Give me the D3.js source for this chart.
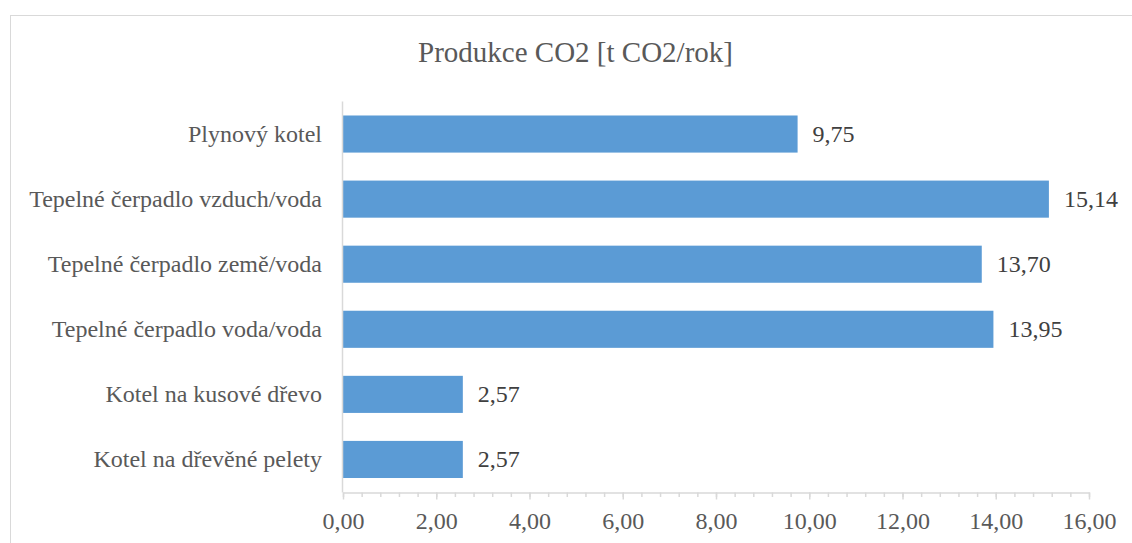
<!DOCTYPE html>
<html><head><meta charset="utf-8">
<script src="https://cdn.jsdelivr.net/npm/d3@7"></script>
<style>body{margin:0;background:#fff}svg{display:block}
svg text{font-family:"Times New Roman","Liberation Serif",Times,serif}</style>
</head><body>
<script>
const title = "Produkce CO2 [t CO2/rok]";
const categories = ["Plynový kotel","Tepelné čerpadlo vzduch/voda","Tepelné čerpadlo země/voda","Tepelné čerpadlo voda/voda","Kotel na kusové dřevo","Kotel na dřevěné pelety"];
const values = [9.75, 15.14, 13.70, 13.95, 2.57, 2.57];
const xTicks = [0,2,4,6,8,10,12,14,16];
const xMax = 16;

const W = 1132, H = 543;
const svg = d3.select("body").append("svg").attr("width", W).attr("height", H);
const fmt = v => v.toFixed(2).replace(".", ",");

// chart border
svg.append("rect").attr("x",10.5).attr("y",15.5).attr("width",1140).attr("height",560)
  .attr("fill","#fff").attr("stroke","#d9d9d9").attr("stroke-width",1);

const x = d3.scaleLinear().domain([0, xMax]).range([343, 1089]);
const y = d3.scaleBand().domain(categories).range([101.5, 492]).paddingInner(0.43).paddingOuter(0.215);

svg.append("text").attr("x",575.5).attr("y",62).attr("text-anchor","middle")
  .attr("font-size",29).attr("fill","#595959").text(title);

// bars
svg.selectAll("rect.bar").data(values).join("rect").attr("class","bar")
  .attr("x", x(0)).attr("y",(d,i)=>y(categories[i]))
  .attr("width", d=>x(d)-x(0)).attr("height", y.bandwidth())
  .attr("fill","#5b9bd5");

// value labels
svg.selectAll("text.val").data(values).join("text").attr("class","val")
  .attr("x", d=>x(d)+15).attr("y",(d,i)=>y(categories[i])+y.bandwidth()/2)
  .attr("dy","0.33em").attr("font-size",24).attr("fill","#404040")
  .text(fmt);

// category labels
svg.selectAll("text.cat").data(categories).join("text").attr("class","cat")
  .attr("x", 322).attr("y", d=>y(d)+y.bandwidth()/2).attr("dy","0.33em")
  .attr("text-anchor","end").attr("font-size",24).attr("fill","#595959")
  .text(d=>d);

// vertical axis line
svg.append("line").attr("x1",342.5).attr("x2",342.5).attr("y1",101.5).attr("y2",492.5)
  .attr("stroke","#d9d9d9").attr("stroke-width",1.5);

// x axis with minor ticks
const minor = d3.range(0, xMax + 0.001, 0.4).map(v => +v.toFixed(2));
const gMinor = svg.append("g").attr("transform","translate(0,492.5)")
  .call(d3.axisBottom(x).tickValues(minor).tickSize(4.5).tickFormat(""));
gMinor.selectAll("path,line").attr("stroke","#d9d9d9").attr("stroke-width",1.5);
gMinor.select(".domain").remove();
const gx = svg.append("g").attr("transform","translate(0,492.5)")
  .call(d3.axisBottom(x).tickValues(xTicks).tickSize(7).tickSizeOuter(0).tickPadding(12).tickFormat(fmt));
gx.selectAll("path,line").attr("stroke","#d9d9d9").attr("stroke-width",1.5);
gx.attr("font-family", null);
gx.selectAll("text").attr("font-size",24).attr("fill","#595959");
</script>
</body></html>
